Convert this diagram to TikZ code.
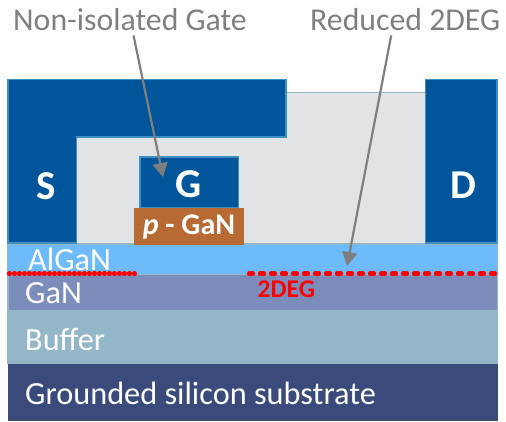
\documentclass[tikz,border=0pt]{standalone}
\usepackage{fontspec}
\setmainfont{Carlito}
\usetikzlibrary{arrows.meta}
\definecolor{metal}{HTML}{00559B}
\definecolor{metaledge}{HTML}{3E8FC4}
\definecolor{passiv}{HTML}{E2E3E5}
\definecolor{algan}{HTML}{6DBBFD}
\definecolor{gan}{HTML}{7C8CBB}
\definecolor{buffer}{HTML}{93B6C8}
\definecolor{substrate}{HTML}{3A4B7B}
\definecolor{pgan}{HTML}{B86A35}
\definecolor{pointer}{HTML}{7F7F7F}
\tikzset{
  layertext/.style={text=white, anchor=base west, inner sep=0pt, font=\fontsize{32.3}{32.3}\selectfont},
  contact/.style={text=white, inner sep=0pt, font=\fontsize{41}{41}\selectfont\bfseries},
  callout/.style={text=pointer, anchor=base west, inner sep=0pt, font=\fontsize{31.8}{31.8}\selectfont},
  metalfill/.style={fill=metal, draw=metaledge, line width=1.2pt},
  pointto/.style={-{Stealth[inset=0pt, length=14pt, width=15pt]}, draw=pointer, line width=2.2pt},
  channeldots/.style={red, line width=4.4pt, line cap=round, dash pattern=on 0.8pt off 4.2pt},
  channeldash/.style={red, line width=4.4pt, line cap=round, dash pattern=on 4pt off 7pt}
}
\begin{document}
\begin{tikzpicture}[x=1pt, y=-1pt]
  \useasboundingbox (0,0) rectangle (506,421);

  % Layer stack
  \fill[buffer] (7,243) rectangle (497.5,364);
  \fill[algan] (8,245) rectangle (497,274);
  \fill[gan] (9,275) rectangle (497,310);
  \fill[substrate] (8,364) rectangle (497.5,421);

  % Passivation
  \fill[passiv] (76,92) rectangle (426,243);
  \draw[buffer, line width=1pt] (286,92) -- (426,92);
  \draw[buffer, line width=1pt] (76,243.5) -- (426,243.5);

  % Source with field plate, drain and gate
  \draw[metalfill] (8,79.5) -- (286,79.5) -- (286,137) -- (76.5,137) -- (76.5,243) -- (8,243) -- cycle;
  \draw[metalfill] (425.5,79.5) rectangle (497,243);
  \draw[metalfill] (140,157) rectangle (238.5,208);
  \fill[pgan] (134,208) rectangle (244,245);

  % Electrode labels
  \node[contact] (source) at (46,186) {S};
  \node[contact] (gate) at (188.5,184) {G};
  \node[contact] (drain) at (463,185) {D};
  \node[text=white, inner sep=0pt, font=\fontsize{30}{30}\selectfont\bfseries] (pgate) at (189,227) {\textit{p} - GaN};

  % Layer labels
  \node[layertext] (alganlabel) at (28,270) {AlGaN};
  \node[layertext] (ganlabel) at (25,303) {GaN};
  \node[layertext] (bufferlabel) at (25,350) {Buffer};
  \node[layertext] (substratelabel) at (25,404) {Grounded silicon substrate};

  % 2DEG
  \coordinate (channelA) at (9,273.5);
  \coordinate (channelB) at (135,273.5);
  \coordinate (channelC) at (249,273.5);
  \coordinate (channelD) at (497,273.5);
  \draw[channeldots] (channelA) -- (channelB);
  \draw[channeldash] (channelC) -- (channelD);
  \node[text=red, anchor=base west, inner sep=0pt, font=\fontsize{25.5}{25.5}\selectfont\bfseries] (deglabel) at (257.5,297.5) {2DEG};

  % Callouts
  \node[callout] (gatelabel) at (13,30) {Non-isolated Gate};
  \node[callout] (reducedlabel) at (310,30) {Reduced 2DEG};
  \coordinate (gatetip) at (163,177);
  \coordinate (reducedtip) at (347,266);
  \draw[pointto] ([xshift=3.5pt, yshift=-5pt]gatelabel.south) -- (gatetip);
  \draw[pointto] ([xshift=-14pt, yshift=-5pt]reducedlabel.south) -- (reducedtip);
\end{tikzpicture}
\end{document}
